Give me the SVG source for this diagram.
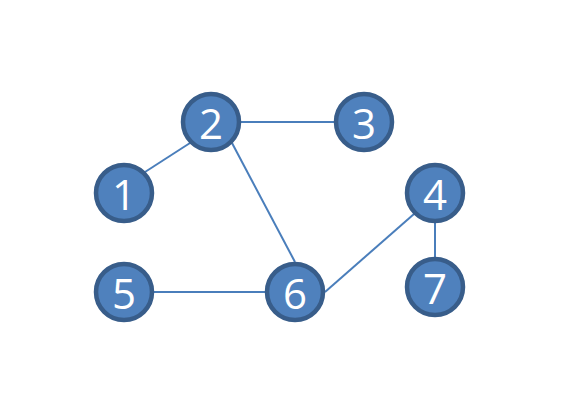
<svg xmlns="http://www.w3.org/2000/svg" width="565" height="414" viewBox="0 0 565 414">
<style>
.e{stroke:#4A7EBB;stroke-width:2;fill:none}
.n circle{fill:#4F81BD;stroke:#385D8A;stroke-width:4.5}
.n text{fill:#fff;font-family:"Open Sans","Noto Sans",sans-serif;font-size:42px;text-anchor:middle;dominant-baseline:central}
</style>
<rect width="565" height="414" fill="#fff"/>
<g id="edges">
<line class="e" x1="145" y1="172" x2="190" y2="143"/>
<line class="e" x1="241" y1="122" x2="334" y2="122"/>
<line class="e" x1="232" y1="143" x2="295" y2="262"/>
<line class="e" x1="154" y1="292" x2="265" y2="292"/>
<line class="e" x1="325" y1="292" x2="414" y2="214"/>
<line class="e" x1="435" y1="223" x2="435" y2="257"/>
</g>
<g id="n1" class="n"><circle cx="124" cy="193" r="28"/><text x="124" y="193">1</text></g>
<g id="n2" class="n"><circle cx="211" cy="122" r="28"/><text x="211" y="122">2</text></g>
<g id="n3" class="n"><circle cx="364" cy="122" r="28"/><text x="364" y="122">3</text></g>
<g id="n4" class="n"><circle cx="435" cy="193" r="28"/><text x="435" y="193">4</text></g>
<g id="n5" class="n"><circle cx="124" cy="292" r="28"/><text x="124" y="292">5</text></g>
<g id="n6" class="n"><circle cx="295" cy="292" r="28"/><text x="295" y="292">6</text></g>
<g id="n7" class="n"><circle cx="435" cy="287" r="28"/><text x="435" y="287">7</text></g>
</svg>
